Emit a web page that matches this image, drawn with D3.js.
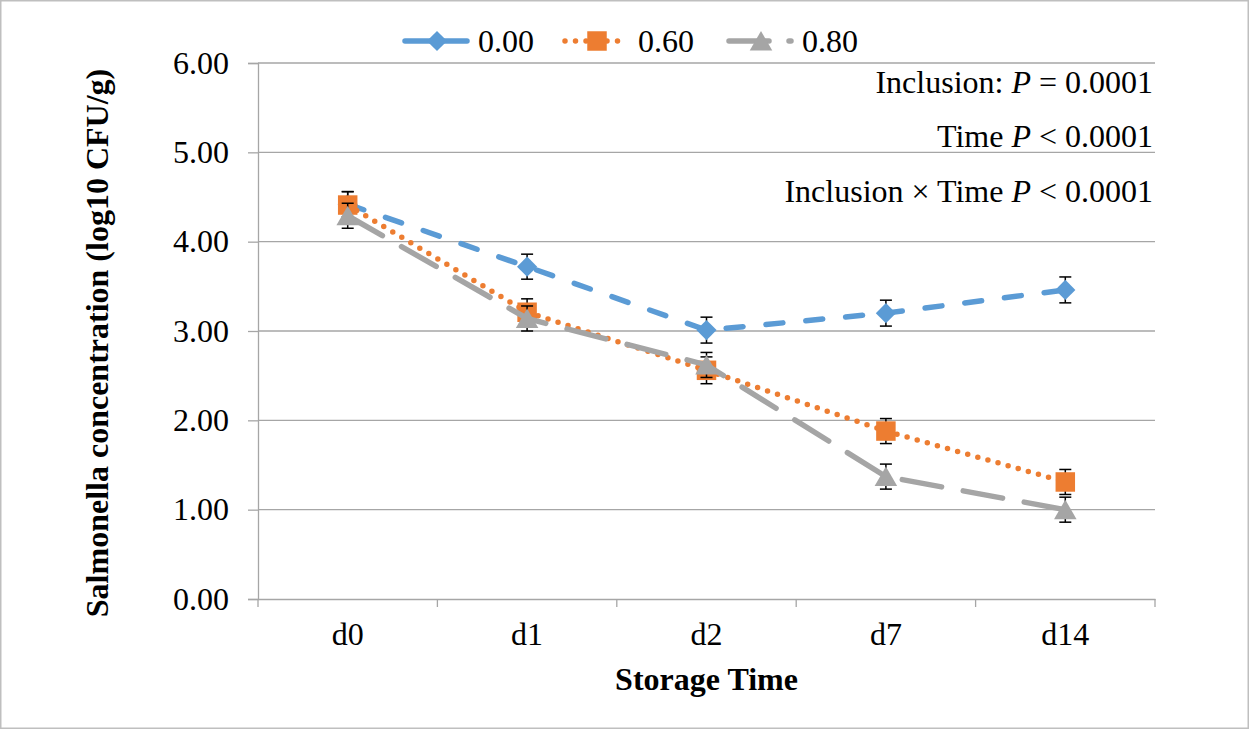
<!DOCTYPE html>
<html>
<head>
<meta charset="utf-8">
<script src="https://cdn.jsdelivr.net/npm/d3@7"></script>
<style>
  body { margin: 0; background: #fff; }
  text { font-family: "Liberation Serif", "Times New Roman", serif; }
</style>
</head>
<body>
<script>
var days = ["d0", "d1", "d2", "d7", "d14"];
var seriesNames = ["0.00", "0.60", "0.80"];
var vals000 = [4.42, 3.72, 3.01, 3.20, 3.46];
var vals060 = [4.41, 3.21, 2.56, 1.88, 1.31];
var vals080 = [4.29, 3.14, 2.62, 1.37, 1.00];
var err000 = [0.14, 0.14, 0.145, 0.145, 0.145];
var err060 = [0.15, 0.15, 0.15, 0.14, 0.14];
var err080 = [0.14, 0.14, 0.14, 0.14, 0.14];
var yTicks = [0, 1, 2, 3, 4, 5, 6];
var notes = ["Inclusion: |P| = 0.0001", "Time |P| < 0.0001", "Inclusion × Time |P| < 0.0001"];

var outerWidth = 1249;
var outerHeight = 729;
var margin = { top: 63, right: 94, bottom: 130, left: 258 };
var width = outerWidth - margin.left - margin.right;
var height = outerHeight - margin.top - margin.bottom;
var fontSize = 32;

var svg = d3.select("body").append("svg")
  .attr("width", outerWidth)
  .attr("height", outerHeight);

// chart border
svg.append("rect")
  .attr("x", 0.75).attr("y", 0.75)
  .attr("width", outerWidth - 1.5).attr("height", outerHeight - 1.5)
  .attr("fill", "#fff").attr("stroke", "#bfbfbf").attr("stroke-width", 1.5);

var xScale = d3.scaleBand().domain(days).range([0, width]).padding(0);
var yScale = d3.scaleLinear().domain([0, 6]).range([height, 0]);

var g = svg.append("g")
  .attr("transform", "translate(" + margin.left + "," + margin.top + ")");

// gridlines
g.selectAll(".grid").data(yTicks.slice(1)).enter().append("line")
  .attr("x1", 0).attr("x2", width)
  .attr("y1", d => yScale(d)).attr("y2", d => yScale(d))
  .attr("stroke", "#a6a6a6").attr("stroke-width", 1.3);

// y axis
var yAxis = d3.axisLeft(yScale).tickValues(yTicks).tickFormat(d3.format(".2f"))
  .tickSize(10).tickPadding(19);
var yg = g.append("g").call(yAxis);
yg.select(".domain").attr("stroke", "#a6a6a6").attr("stroke-width", 1.3);
yg.selectAll(".tick line").attr("stroke", "#a6a6a6").attr("stroke-width", 1.3);
yg.selectAll("text").attr("font-size", fontSize).attr("fill", "#000")
  .attr("font-family", "Liberation Serif");

// x axis
var xAxis = d3.axisBottom(xScale).tickSize(0).tickPadding(23);
var xg = g.append("g").attr("transform", "translate(0," + height + ")").call(xAxis);
xg.select(".domain").attr("stroke", "#a6a6a6").attr("stroke-width", 1.3);
xg.selectAll("text").attr("font-size", fontSize).attr("fill", "#000")
  .attr("font-family", "Liberation Serif");
var bounds = days.map(d => xScale(d)).concat([width]);
xg.selectAll(".bnd").data(bounds).enter().append("line")
  .attr("x1", d => d).attr("x2", d => d)
  .attr("y1", 0).attr("y2", 8)
  .attr("stroke", "#a6a6a6").attr("stroke-width", 1.3);

// axis titles
svg.append("text")
  .attr("x", margin.left + width / 2).attr("y", 690)
  .attr("text-anchor", "middle").attr("font-size", fontSize).attr("font-weight", "bold")
  .text("Storage Time");
svg.append("text")
  .attr("transform", "translate(108," + (margin.top + height / 2 + 12) + ") rotate(-90)")
  .attr("text-anchor", "middle").attr("font-size", fontSize).attr("font-weight", "bold")
  .text("Salmonella concentration (log10 CFU/g)");

// series
var series = [
  { name: seriesNames[0], values: vals000, err: err000, color: "#5b9bd5", dash: "17,23", legDash: null, shape: d3.symbolDiamond2, size: 260, dy: 0 },
  { name: seriesNames[1], values: vals060, err: err060, color: "#ed7d31", dash: "0,10.5", legDash: "0,10.5", shape: d3.symbolSquare, size: 380, dy: 0 },
  { name: seriesNames[2], values: vals080, err: err080, color: "#a5a5a5", dash: "40,22", legDash: "40,20", shape: d3.symbolTriangle, size: 220, dy: 3 }
];

var cx = d => xScale(d) + xScale.bandwidth() / 2;
var line = d3.line().x(d => cx(d.day)).y(d => yScale(d.v));

series.forEach(function (s) {
  var pts = days.map((d, i) => ({ day: d, v: s.values[i], e: s.err[i] }));
  g.append("path")
    .attr("d", line(pts))
    .attr("fill", "none")
    .attr("stroke", s.color)
    .attr("stroke-width", 5.5)
    .attr("stroke-linecap", "round")
    .attr("stroke-dasharray", s.dash);

  var eb = g.append("g");
  pts.forEach(function (p) {
    var x = cx(p.day);
    eb.append("line").attr("x1", x).attr("x2", x)
      .attr("y1", yScale(p.v + p.e)).attr("y2", yScale(p.v - p.e));
    [p.v + p.e, p.v - p.e].forEach(function (v) {
      eb.append("line").attr("x1", x - 6).attr("x2", x + 6)
        .attr("y1", yScale(v)).attr("y2", yScale(v));
    });
  });
  eb.selectAll("line").attr("stroke", "#000").attr("stroke-width", 1.5);

  g.selectAll(null).data(pts).enter().append("path")
    .attr("d", d3.symbol().type(s.shape).size(s.size))
    .attr("transform", d => "translate(" + cx(d.day) + "," + (yScale(d.v) + s.dy) + ")")
    .attr("fill", s.color);
});

// legend
var legendX = [402, 562, 726];
var leg = svg.selectAll(".legend").data(series).enter().append("g")
  .attr("class", "legend")
  .attr("transform", (d, i) => "translate(" + legendX[i] + ",41)");
leg.append("line")
  .attr("x1", 3).attr("x2", 65).attr("y1", 0).attr("y2", 0)
  .attr("stroke", d => d.color).attr("stroke-width", 5.5)
  .attr("stroke-linecap", "round")
  .attr("stroke-dasharray", d => d.legDash);
leg.append("path")
  .attr("d", d => d3.symbol().type(d.shape).size(d.size)())
  .attr("transform", d => "translate(35," + d.dy + ")")
  .attr("fill", d => d.color);
leg.append("text")
  .attr("x", 76).attr("y", 52 - 41)
  .attr("font-size", fontSize)
  .text(d => d.name);

// annotations
var noteY = [93, 147, 202];
notes.forEach(function (n, i) {
  var parts = n.split("|");
  var t = svg.append("text")
    .attr("x", 1153).attr("y", noteY[i])
    .attr("text-anchor", "end").attr("font-size", fontSize);
  t.append("tspan").text(parts[0]);
  t.append("tspan").attr("font-style", "italic").text(parts[1]);
  t.append("tspan").text(parts[2]);
});
</script>
</body>
</html>
